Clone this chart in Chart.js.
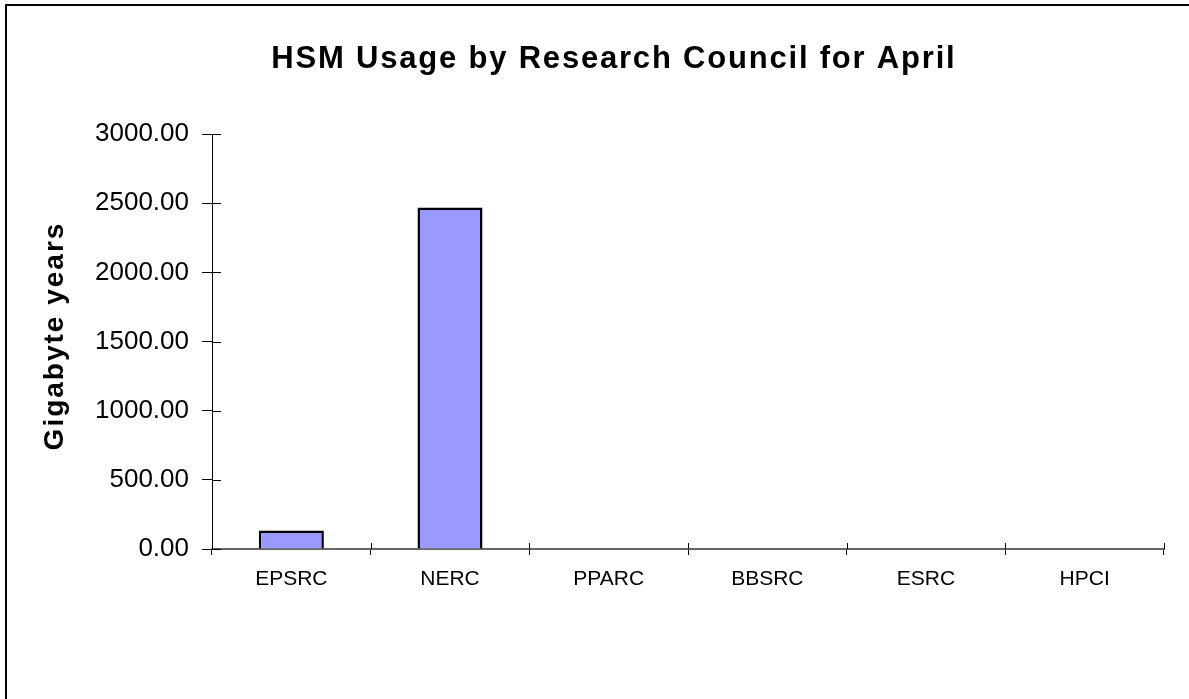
<!DOCTYPE html>
<html>
<head>
<meta charset="utf-8">
<script src="https://cdn.jsdelivr.net/npm/chart.js@4/dist/chart.umd.min.js"></script>
<style>
  html, body { margin: 0; padding: 0; background: #fff; }
  #wrap { position: relative; width: 1189px; height: 699px; overflow: hidden; }
  #frame { position: absolute; left: 5px; top: 4px; right: -10px; bottom: -10px;
           border-top: 2px solid #000; border-left: 2px solid #000; pointer-events: none; }
  canvas { position: absolute; left: 0; top: 0; }
</style>
</head>
<body>
<div id="wrap">
  <canvas id="c" width="1189" height="699"></canvas>
  <div id="frame"></div>
</div>
<script>
const chartTitle = 'HSM Usage by Research Council for April';
const yAxisTitle = 'Gigabyte years';
const categories = ['EPSRC', 'NERC', 'PPARC', 'BBSRC', 'ESRC', 'HPCI'];
const usageValues = [134, 2468, 0, 0, 0, 0];
const yTickValues = [0, 500, 1000, 1500, 2000, 2500, 3000];

const FONT = '"Liberation Sans", Arial, sans-serif';

function spacedText(ctx, text, x, y, spacing) {
  const chars = Array.from(text);
  const widths = chars.map(c => ctx.measureText(c).width);
  const total = widths.reduce((a, b) => a + b, 0) + spacing * (chars.length - 1);
  let cx = x - total / 2;
  ctx.textAlign = 'left';
  chars.forEach((c, i) => { ctx.fillText(c, cx, y); cx += widths[i] + spacing; });
}

const textPlugin = {
  id: 'texts',
  afterDraw(chart) {
    const ctx = chart.ctx;
    const area = chart.chartArea;
    ctx.save();
    ctx.fillStyle = '#000';
    ctx.textBaseline = 'middle';
    ctx.font = 'bold 31px ' + FONT;
    spacedText(ctx, chartTitle, 613, 59, 1.8);
    ctx.translate(55, 337);
    ctx.rotate(-Math.PI / 2);
    ctx.font = 'bold 28px ' + FONT;
    spacedText(ctx, yAxisTitle, 0, 0, 2.0);
    ctx.restore();

    const ys = chart.scales.y;
    ctx.save();
    ctx.lineWidth = 1;
    ctx.strokeStyle = '#000';
    ctx.beginPath();
    ys.ticks.forEach((t, i) => {
      const y = Math.round(ys.getPixelForTick(i)) + 0.5;
      ctx.moveTo(area.left, y);
      ctx.lineTo(area.left + 9, y);
    });
    for (let i = 0; i <= categories.length; i++) {
      const x = Math.round(area.left + (area.right - area.left) * i / categories.length) + 0.5;
      ctx.moveTo(x, area.bottom);
      ctx.lineTo(x, area.bottom - 6);
    }
    ctx.stroke();
    ctx.restore();
  }
};

new Chart(document.getElementById('c'), {
  type: 'bar',
  data: {
    labels: categories,
    datasets: [{
      data: usageValues,
      backgroundColor: '#9999FF',
      borderColor: '#000',
      borderWidth: 2.5,
      borderSkipped: 'bottom',
      barPercentage: 0.41,
      categoryPercentage: 1.0
    }]
  },
  options: {
    responsive: false,
    animation: false,
    devicePixelRatio: 1,
    layout: { padding: { top: 134, right: 25, left: 0, bottom: 0 } },
    plugins: { legend: { display: false }, title: { display: false }, tooltip: { enabled: false } },
    scales: {
      x: {
        afterFit(scale) { scale.height = 150; },
        grid: { display: true, drawOnChartArea: false, offset: true, tickLength: 6, color: '#000', lineWidth: 1 },
        border: { display: true, color: '#666', width: 2 },
        ticks: { color: '#000', font: { family: FONT, size: 21 }, padding: 12, maxRotation: 0, autoSkip: false }
      },
      y: {
        min: 0, max: 3000,
        afterFit(scale) { scale.width = 212; },
        afterBuildTicks(scale) { scale.ticks = yTickValues.map(v => ({ value: v })); },
        grid: { display: true, drawOnChartArea: false, tickLength: 10, color: '#000', lineWidth: 1 },
        border: { display: true, color: '#000', width: 1 },
        ticks: { color: '#000', font: { family: FONT, size: 26 }, padding: 13,
                 callback: v => Number(v).toFixed(2) }
      }
    }
  },
  plugins: [textPlugin]
});
</script>
</body>
</html>
